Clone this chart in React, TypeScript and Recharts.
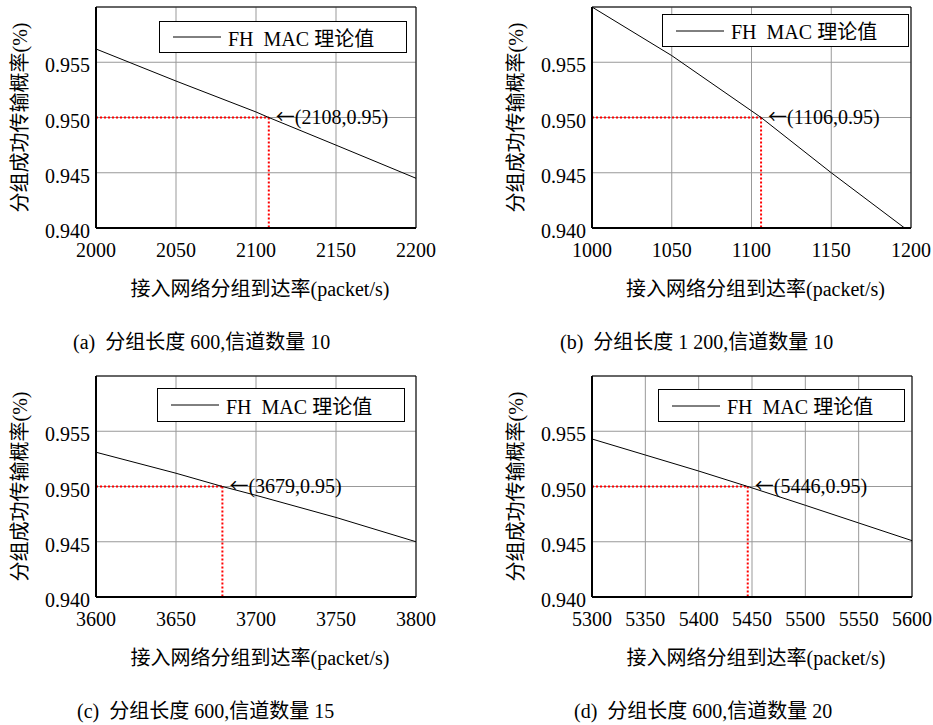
import React from "react"
import {
  CartesianGrid,
  Legend,
  Line,
  LineChart,
  ReferenceArea,
  ReferenceDot,
  ReferenceLine,
  XAxis,
  YAxis,
} from "recharts"

// (a) packet length 600, 10 channels
const rateA = [2000, 2050, 2100, 2108, 2150, 2200]
const probA = [0.9562, 0.9533, 0.9505, 0.95, 0.9475, 0.9445]
const ticksA = [2000, 2050, 2100, 2150, 2200]

// (b) packet length 1200, 10 channels
const rateB = [1000, 1050, 1100, 1106, 1150, 1196]
const probB = [0.96, 0.9556, 0.9506, 0.95, 0.945, 0.94]
const ticksB = [1000, 1050, 1100, 1150, 1200]

// (c) packet length 600, 15 channels
const rateC = [3600, 3650, 3679, 3700, 3750, 3800]
const probC = [0.9531, 0.9512, 0.95, 0.9492, 0.9472, 0.945]
const ticksC = [3600, 3650, 3700, 3750, 3800]

// (d) packet length 600, 20 channels
const rateD = [5300, 5350, 5400, 5446, 5500, 5550, 5600]
const probD = [0.9543, 0.95285, 0.9514, 0.95, 0.9483, 0.9467, 0.9451]
const ticksD = [5300, 5350, 5400, 5450, 5500, 5550, 5600]

const marks = [2108, 1106, 3679, 5446]
const markProb = 0.95

const probTicks = [0.94, 0.945, 0.95, 0.955]
const probDomain: [number, number] = [0.94, 0.96]

const captions = [
  "(a)  分组长度 600,信道数量 10",
  "(b)  分组长度 1 200,信道数量 10",
  "(c)  分组长度 600,信道数量 15",
  "(d)  分组长度 600,信道数量 20",
]

const seriesName = "FH  MAC 理论值"
const xLabel = "接入网络分组到达率(packet/s)"
const yLabel = "分组成功传输概率(%)"

const font = '"Liberation Serif", "Times New Roman", "Noto Sans CJK SC", serif'

interface PanelProps {
  rates: number[]
  probs: number[]
  ticks: number[]
  mark: number
  left: number
  top: number
  width: number
  marginLeft: number
  marginRight: number
  legendPos: { left: number; top: number; width: number; height: number }
}

function LegendBox() {
  return (
    <div
      style={{
        boxSizing: "border-box",
        width: "100%",
        height: "100%",
        border: "1.5px solid #000",
        background: "#fff",
        display: "flex",
        alignItems: "center",
        fontFamily: font,
        fontSize: 20,
        color: "#000",
        whiteSpace: "pre",
      }}
    >
      <svg width={55} height={10} style={{ marginLeft: 13 }}>
        <line x1={0} y1={5} x2={48} y2={5} stroke="#000" strokeWidth={1} />
      </svg>
      <span>{seriesName}</span>
    </div>
  )
}

function Annotation({ viewBox, mark }: { viewBox?: any; mark: number }) {
  if (!viewBox) return null
  const x = viewBox.x + viewBox.width / 2 + 7
  const y = viewBox.y + viewBox.height / 2
  return (
    <text x={x} y={y} dy="0.33em" fontSize={20} fill="#000" fontFamily={font}>
      <tspan fontFamily='"Noto Sans CJK SC"' fontSize={19}>
        ←
      </tspan>
      <tspan>{`(${mark},0.95)`}</tspan>
    </text>
  )
}

function Panel({ rates, probs, ticks, mark, left, top, width, marginLeft, marginRight, legendPos }: PanelProps) {
  const data = rates.map((r, i) => ({ rate: r, prob: probs[i] }))
  const xMin = ticks[0]
  const xMax = ticks[ticks.length - 1]

  return (
    <div style={{ position: "absolute", left, top }}>
      <LineChart
        width={width}
        height={310}
        data={data}
        margin={{ top: 7, right: marginRight, left: marginLeft, bottom: 0 }}
      >
        <CartesianGrid stroke="#999" strokeWidth={1} vertical horizontal />
        <XAxis
          dataKey="rate"
          type="number"
          domain={[xMin, xMax]}
          ticks={ticks}
          interval={0}
          height={82}
          tickLine={false}
          tickSize={0}
          tickMargin={15}
          axisLine={{ stroke: "#000", strokeWidth: 2 }}
          tick={{ fontSize: 20, fill: "#000", fontFamily: font }}
          label={{
            value: xLabel,
            position: "insideBottom",
            offset: 14,
            dx: 4,
            fontSize: 20,
            fill: "#000",
            fontFamily: font,
          }}
        />
        <YAxis
          type="number"
          domain={probDomain}
          ticks={probTicks}
          interval={0}
          width={96}
          allowDataOverflow
          tickLine={false}
          tickSize={0}
          tickMargin={6}
          axisLine={{ stroke: "#000", strokeWidth: 2 }}
          tickFormatter={(v: number) => v.toFixed(3)}
          tick={{ fontSize: 20, fill: "#000", fontFamily: font, dy: 3 }}
          label={{
            value: yLabel,
            angle: -90,
            position: "insideLeft",
            offset: 20,
            fontSize: 20,
            fill: "#000",
            fontFamily: font,
            style: { textAnchor: "middle" },
          }}
        />
        <ReferenceArea
          x1={xMin}
          x2={xMax}
          y1={probDomain[0]}
          y2={probDomain[1]}
          fill="none"
          stroke="#000"
          strokeWidth={1}
          ifOverflow="visible"
        />
        <ReferenceLine
          segment={[
            { x: xMin, y: markProb },
            { x: mark, y: markProb },
          ]}
          stroke="#f00"
          strokeWidth={2}
          strokeDasharray="2 2"
        />
        <ReferenceLine
          segment={[
            { x: mark, y: markProb },
            { x: mark, y: probDomain[0] },
          ]}
          stroke="#f00"
          strokeWidth={2}
          strokeDasharray="2 2"
        />
        <Line
          type="linear"
          dataKey="prob"
          name={seriesName}
          stroke="#000"
          strokeWidth={1}
          dot={false}
          isAnimationActive={false}
        />
        <ReferenceDot
          x={mark}
          y={markProb}
          r={0}
          fill="none"
          stroke="none"
          label={(p: any) => <Annotation viewBox={p.viewBox} mark={mark} />}
        />
        <Legend
          layout="vertical"
          verticalAlign="middle"
          align="center"
          wrapperStyle={{ ...legendPos, margin: 0, padding: 0 }}
          content={() => <LegendBox />}
        />
      </LineChart>
    </div>
  )
}

function Caption({ text, left, top }: { text: string; left: number; top: number }) {
  return (
    <div
      style={{
        position: "absolute",
        left,
        top,
        fontFamily: font,
        fontSize: 20,
        lineHeight: "20px",
        color: "#000",
        whiteSpace: "pre",
      }}
    >
      {text}
    </div>
  )
}

export default function App() {
  return (
    <div
      style={{
        position: "absolute",
        left: 0,
        top: 0,
        width: 933,
        height: 725,
        background: "#fff",
        overflow: "hidden",
        fontFamily: font,
      }}
    >
      <style>{`.recharts-text { font-family: ${font}; }`}</style>
      <Panel
        rates={rateA}
        probs={probA}
        ticks={ticksA}
        mark={marks[0]}
        left={0}
        top={0}
        width={460}
        marginLeft={0}
        marginRight={44}
        legendPos={{ left: 159, top: 21, width: 248, height: 32 }}
      />
      <Panel
        rates={rateB}
        probs={probB}
        ticks={ticksB}
        mark={marks[1]}
        left={460}
        top={0}
        width={473}
        marginLeft={36}
        marginRight={22}
        legendPos={{ left: 202, top: 14, width: 247, height: 33 }}
      />
      <Panel
        rates={rateC}
        probs={probC}
        ticks={ticksC}
        mark={marks[2]}
        left={0}
        top={369}
        width={460}
        marginLeft={0}
        marginRight={44}
        legendPos={{ left: 157, top: 19, width: 248, height: 34 }}
      />
      <Panel
        rates={rateD}
        probs={probD}
        ticks={ticksD}
        mark={marks[3]}
        left={460}
        top={369}
        width={473}
        marginLeft={36}
        marginRight={21}
        legendPos={{ left: 198, top: 20, width: 247, height: 33 }}
      />
      <Caption text={captions[0]} left={73} top={332} />
      <Caption text={captions[1]} left={560} top={332} />
      <Caption text={captions[2]} left={77} top={701} />
      <Caption text={captions[3]} left={574} top={701} />
    </div>
  )
}
